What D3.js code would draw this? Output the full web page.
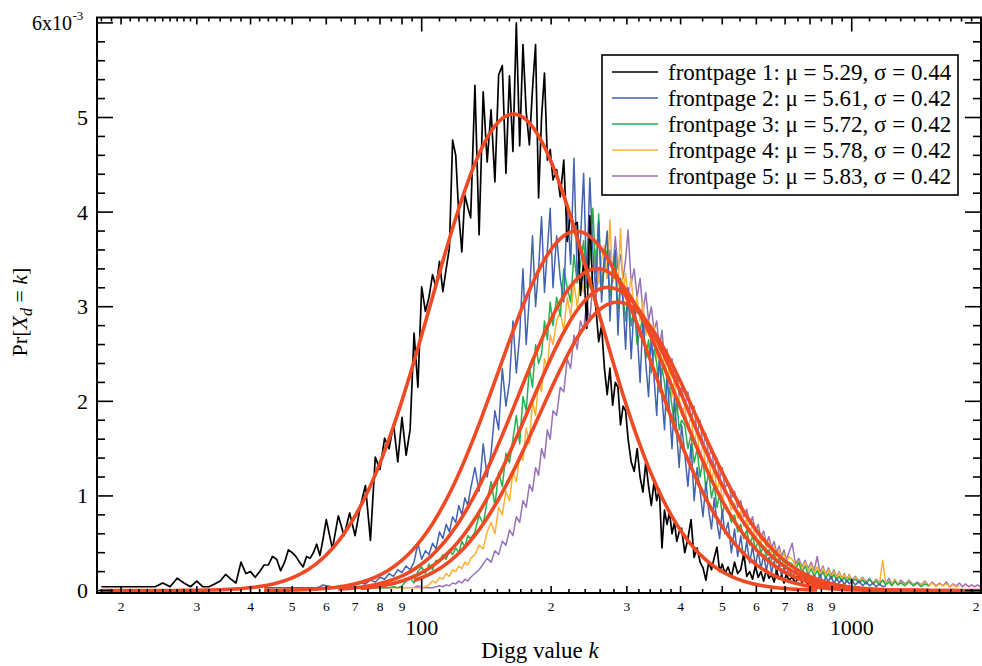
<!DOCTYPE html>
<html>
<head>
<meta charset="utf-8">
<script src="https://cdn.jsdelivr.net/npm/d3@7"></script>
<style>
  body { margin: 0; background: #fff; }
  svg { display: block; font-family: "Liberation Serif", "Times New Roman", serif; }
</style>
</head>
<body>
<svg id="chart" width="982" height="666"></svg>
<script>
// Digg value k at which the empirical distributions are sampled (shared by all series)
const kGrid = [
  18,19,20,21,22,23,24,25,26,27,28,29,30,31,32,33,34,35,36,37,38,39,40,41,42,43,44,45,46,47,48,49,50,51,52,53,54,55,56,57,58,59,60,
  62,64,66,68,70,72,74,76,78,80,82,84,86,88,90,92,94,96,98,100,102,104,106,108,110,112,114,116,118,120,122,124,126,128,130,
  133,136,139,142,145,148,151,154,157,160,163,166,169,172,175,178,181,184,187,190,193,196,199,202,
  206,210,214,218,222,226,230,234,238,242,246,250,254,258,262,266,270,274,278,282,286,290,294,298,302,
  307,312,317,322,327,332,337,342,347,352,357,362,367,372,377,382,387,392,397,402,
  409,416,423,430,437,444,451,458,465,472,479,486,493,500,507,
  516,525,534,543,552,561,570,579,588,597,606,615,624,633,642,651,660,669,678,687,696,705,714,
  727,740,753,766,779,792,805,818,831,844,857,870,883,896,909,922,935,948,961,974,987,1000,
  1020,1040,1060,1080,1100,1120,1140,1160,1180,1200,1220,1240,1260,1280,1300,
  1330,1360,1390,1420,1450,1480,1510,1540,1570,1600,1630,1660,1690,1720,1750,1780,1810,1840,1870,1900,1930,1960,1990
];

const seriesNames = ["frontpage 1", "frontpage 2", "frontpage 3", "frontpage 4", "frontpage 5"];
const seriesColors = ["#000000", "#4263b1", "#22b14c", "#fbb231", "#9673b6"];
const fitColor = "#ef4a24";
// lognormal fit parameters
const mu = [5.29, 5.61, 5.72, 5.78, 5.83];
const sigma = [0.44, 0.42, 0.42, 0.42, 0.42];
// first k of each series in kGrid
const seriesStart = [18, 43, 64, 72, 96];

// Pr[X_d = k] in units of 1e-3, consecutive kGrid points from seriesStart
const fp1 = [
  .04,.04,.04,.04,.04,.04,.04,.08,.04,.13,.08,.04,.10,.04,.04,.07,.10,.17,.12,.08,.30,.18,.20,.14,.20,.27,.27,.36,.33,.21,.30,.43,.40,.36,.30,.25,.36,.34,.40,.49,.37,.55,.75,
  .44,.79,.58,.82,.58,.89,1.11,.53,1.41,1.28,1.61,1.50,1.76,1.36,1.83,1.43,1.70,2.72,2.15,3.21,2.95,3.10,3.34,3.20,3.48,3.16,3.40,3.62,4.76,4.60,3.97,3.58,4.18,4.05,3.94,
  5.34,3.76,5.27,4.53,5.08,4.32,5.45,5.55,4.41,5.44,4.64,6.00,4.70,5.77,5.06,4.71,5.30,5.77,4.15,5.00,5.47,4.55,4.66,4.34,
  4.45,4.16,4.55,3.69,3.98,3.86,3.89,3.12,3.48,2.77,3.96,3.16,3.00,2.63,2.80,2.35,2.07,2.35,1.96,2.20,2.15,1.75,1.95,1.90,1.60,
  1.36,1.26,1.50,1.20,1.04,1.36,1.10,.90,1.15,.95,1.07,.45,.85,.70,.83,.60,.72,.52,.62,.66,
  .40,.55,.75,.35,.45,.30,.24,.11,.30,.22,.35,.46,.20,.28,.18,
  .25,.14,.30,.18,.22,.39,.15,.20,.12,.26,.14,.20,.10,.22,.13,.17,.09,.21,.12,.16,.08,.18,.11,
  .14,.08,.15,.09,.12,.06,.11,.07,.06
];
const fp2 = [
  .03,.03,.03,.03,.03,.03,.03,.03,.03,.03,.03,.03,.03,.03,.03,.04,.06,.05,
  .04,.04,.05,.04,.06,.08,.07,.11,.09,.14,.12,.18,.15,.22,.19,.26,.22,.30,.50,.33,.42,.38,.50,.44,.62,.55,.70,.62,.78,.72,.90,.80,.98,.90,1.08,
  1.30,1.05,1.55,1.20,1.45,1.90,1.70,2.35,1.95,2.20,2.85,2.30,2.70,3.40,2.60,3.10,3.75,3.00,3.40,3.95,3.15,3.60,4.04,3.20,
  3.75,3.30,3.05,4.10,3.45,4.57,3.30,3.70,4.41,3.25,4.36,3.60,3.15,3.90,3.05,3.50,3.80,2.85,3.40,3.60,2.70,3.30,3.05,2.55,3.20,
  2.45,3.05,2.75,2.20,2.90,2.40,2.05,2.70,2.25,1.85,2.50,2.05,1.70,2.30,1.90,1.50,2.05,1.65,1.30,1.75,
  1.45,1.10,1.55,.95,1.30,1.05,.78,1.15,.85,.65,.98,.72,.55,.85,.60,
  .72,.40,.65,.36,.58,.32,.52,.29,.47,.26,.42,.23,.38,.21,.35,.19,.31,.17,.28,.15,.26,.14,.24,
  .14,.22,.12,.20,.11,.18,.10,.16,.09,.17,.08,.14,.10,.15,.07,.13,.08,.12,.06,.11,.07,.10,
  .06,.10,.05,.09,.05,.08,.04,.07,.04,.05
];
const fp3 = [
  .03,.03,.03,.03,.03,.03,.03,.03,.03,.03,.03,.04,.03,.05,.10,.13,.08,.20,.25,.18,.28,.22,.32,.30,.38,.33,.42,.38,.45,.40,.52,.46,.58,.55,
  .62,.80,.70,.95,1.15,.90,1.25,1.10,1.45,1.35,1.60,1.85,1.55,2.05,1.90,2.35,2.15,2.60,2.40,2.50,2.85,2.65,3.05,2.80,
  3.10,2.90,3.40,3.20,3.05,3.55,3.25,3.45,3.70,3.20,3.50,4.04,3.35,3.98,3.15,3.45,3.60,3.10,3.35,3.50,2.95,3.25,3.10,2.85,3.15,
  2.80,3.00,2.60,2.75,2.90,2.45,2.65,2.30,2.55,2.40,2.10,2.35,2.20,1.90,2.15,1.95,1.75,2.00,1.70,1.80,
  1.75,1.50,1.65,1.35,1.50,1.20,1.38,1.08,1.25,.98,1.12,.88,1.02,.80,.92,
  .85,.72,.80,.62,.70,.55,.64,.48,.58,.44,.52,.40,.47,.36,.43,.32,.40,.29,.36,.26,.33,.24,.30,
  .28,.22,.30,.19,.26,.17,.23,.15,.21,.14,.20,.13,.18,.12,.17,.11,.15,.10,.14,.09,.13,.09,
  .12,.08,.11,.07,.12,.07,.10,.06,.11,.06,.09,.05,.10,.06,.08,
  .05,.09,.05,.08,.04,.07,.05
];
const fp4 = [
  .03,.03,.03,.03,.03,.03,.03,.03,.03,.03,.03,.03,.03,.03,.03,.04,.06,.10,.08,.14,.12,.18,.15,.22,.20,.26,.23,.30,.27,.34,
  .38,.48,.44,.62,.72,.60,.88,.80,1.05,.95,1.25,1.15,1.42,1.38,1.72,1.55,2.00,1.85,2.20,2.10,2.45,2.35,2.70,2.60,
  2.85,2.95,2.75,3.10,2.90,3.25,3.00,3.30,3.15,3.50,3.20,3.40,3.60,3.25,3.50,3.65,3.30,3.92,3.25,3.45,3.20,3.83,3.15,3.35,3.10,
  3.30,2.95,3.10,2.85,3.05,2.70,2.85,2.60,2.80,2.45,2.65,2.35,2.50,2.20,2.40,2.05,2.25,1.95,2.05,1.85,
  1.95,1.70,1.85,1.55,1.70,1.40,1.55,1.28,1.42,1.15,1.30,1.05,1.18,.95,1.08,
  .98,.85,.92,.76,.84,.68,.76,.60,.70,.54,.63,.50,.58,.45,.52,.40,.47,.36,.43,.33,.39,.30,.36,
  .33,.26,.31,.23,.30,.21,.27,.19,.25,.17,.24,.16,.22,.15,.20,.13,.19,.12,.17,.11,.16,.10,
  .14,.09,.13,.08,.12,.08,.11,.07,.32,.07,.10,.06,.12,.06,.09,
  .06,.10,.05,.08,.05,.09,.05,.08,.04,.07,.05,.07,.04,.06,.04,.05
];
const fp5 = [
  .03,.05,.03,.03,.03,.03,.04,.05,.04,.06,.05,.08,.07,.10,.08,.12,.10,.14,
  .18,.22,.28,.34,.30,.42,.38,.52,.48,.64,.58,.78,.72,.95,.88,1.12,1.05,1.30,1.22,1.50,1.40,1.70,1.60,1.90,
  1.85,2.15,2.10,2.45,2.35,2.70,2.55,2.85,2.75,3.05,2.85,3.25,3.05,3.40,3.15,3.55,3.30,3.60,3.35,3.74,3.40,3.55,3.30,3.50,3.81,
  3.25,3.40,3.10,3.30,2.95,3.15,2.85,3.00,2.75,2.85,2.55,2.75,2.45,2.55,2.30,2.45,2.20,2.30,2.05,2.15,
  1.95,2.10,1.80,1.95,1.65,1.80,1.52,1.66,1.40,1.52,1.28,1.40,1.18,1.30,1.08,
  1.15,.98,1.05,.88,.95,.78,.86,.70,.78,.62,.70,.56,.63,.50,.57,.45,.52,.40,.47,.36,.43,.33,.40,
  .50,.28,.34,.25,.32,.23,.30,.21,.36,.19,.26,.17,.24,.16,.22,.14,.20,.13,.18,.12,.17,.11,
  .15,.10,.14,.09,.13,.08,.12,.08,.11,.07,.13,.07,.10,.06,.11,
  .07,.11,.06,.09,.06,.10,.05,.09,.05,.08,.05,.09,.04,.07,.05,.08,.04,.07,.04,.06,.04,.06,.04
];
const seriesValues = [fp1, fp2, fp3, fp4, fp5];

// axis ticks
const yTickValues = [0, 1, 2, 3, 4, 5];
const yTopLabel = 6;
const xDecadeTicks = [100, 1000];
const xDigitTicks = [20, 30, 40, 50, 60, 70, 80, 90, 200, 300, 400, 500, 600, 700, 800, 900, 2000];
const xSmallTicks = [18, 19, 21, 22, 23, 24, 25, 26, 27, 28, 29, 32, 34, 36, 38, 42, 44, 46, 48, 55, 65, 75, 85, 95,
  110, 120, 130, 140, 150, 160, 170, 180, 190, 220, 240, 260, 280, 320, 340, 360, 380, 450, 550, 650, 750, 850, 950,
  1100, 1200, 1300, 1400, 1500, 1600, 1700, 1800, 1900];

const svg = d3.select("#chart");
const plot = { left: 97, right: 981, top: 17.5, bottom: 593 };

const x = d3.scaleLog().domain([17.58, 1998]).range([plot.left, plot.right]);
const y = d3.scaleLinear().domain([-0.026, 6.057]).range([plot.bottom, plot.top]);

svg.append("defs").append("clipPath").attr("id", "plotClip")
  .append("rect")
  .attr("x", plot.left).attr("y", plot.top)
  .attr("width", plot.right - plot.left).attr("height", plot.bottom - plot.top);

const layer = svg.append("g").attr("clip-path", "url(#plotClip)");

const line = d3.line().x(d => x(d[0])).y(d => y(d[1]));

// empirical series, last one at the back
const order = [4, 3, 2, 1, 0];
order.forEach(i => {
  const start = kGrid.indexOf(seriesStart[i]);
  const pts = seriesValues[i].map((v, j) => [kGrid[start + j], v]);
  layer.append("path")
    .datum(pts)
    .attr("fill", "none")
    .attr("stroke", seriesColors[i])
    .attr("stroke-width", i === 0 ? 1.7 : 1.5)
    .attr("stroke-linejoin", "round")
    .attr("d", line);
});

// lognormal fits over each series' k range
function lognormalPdf(k, m, s) {
  const z = (Math.log(k) - m) / s;
  return 1000 / (k * s * Math.sqrt(2 * Math.PI)) * Math.exp(-0.5 * z * z);
}
[0, 1, 2, 3, 4].forEach(i => {
  const start = kGrid.indexOf(seriesStart[i]);
  const kEnd = kGrid[start + seriesValues[i].length - 1];
  const lo = Math.log(seriesStart[i]), hi = Math.log(kEnd);
  const ks = d3.range(0, 301).map(t => Math.exp(lo + (hi - lo) * t / 300));
  layer.append("path")
    .datum(ks.map(k => [k, lognormalPdf(k, mu[i], sigma[i])]))
    .attr("fill", "none")
    .attr("stroke", fitColor)
    .attr("stroke-width", 3.6)
    .attr("stroke-linecap", "butt")
    .attr("d", line);
});

// frame
svg.append("rect")
  .attr("x", plot.left).attr("y", plot.top)
  .attr("width", plot.right - plot.left).attr("height", plot.bottom - plot.top)
  .attr("fill", "none").attr("stroke", "#000").attr("stroke-width", 2);

const ticks = svg.append("g").attr("stroke", "#000").attr("stroke-width", 1.6);

function xTick(k, len) {
  const px = x(k);
  ticks.append("line").attr("x1", px).attr("x2", px).attr("y1", plot.bottom).attr("y2", plot.bottom - len);
  ticks.append("line").attr("x1", px).attr("x2", px).attr("y1", plot.top).attr("y2", plot.top + len);
}
xDecadeTicks.forEach(k => xTick(k, 14));
xDigitTicks.filter(k => k < 1998).forEach(k => xTick(k, 7));
xSmallTicks.forEach(k => xTick(k, 4));

function yTick(v, len) {
  const py = y(v);
  ticks.append("line").attr("x1", plot.left).attr("x2", plot.left + len).attr("y1", py).attr("y2", py);
  ticks.append("line").attr("x1", plot.right).attr("x2", plot.right - len).attr("y1", py).attr("y2", py);
}
d3.range(0, 6.001, 1).forEach(v => yTick(v, 16));
d3.range(0.2, 6, 0.2).filter(v => Math.abs(v - Math.round(v)) > 0.01).forEach(v => yTick(v, 8));

// tick labels
const labels = svg.append("g").attr("fill", "#000");
yTickValues.forEach(v => {
  labels.append("text").attr("x", 88).attr("y", y(v) + 7.5)
    .attr("text-anchor", "end").attr("font-size", 22).text(v);
});
labels.append("text").attr("x", 72).attr("y", y(yTopLabel) + 7)
  .attr("text-anchor", "end").attr("font-size", 20).text(yTopLabel + "x10");
labels.append("text").attr("x", 72.5).attr("y", y(yTopLabel) - 3)
  .attr("font-size", 13).text("-3");

xDigitTicks.forEach(k => {
  const px = Math.min(x(k), 976);
  labels.append("text").attr("x", px).attr("y", 611)
    .attr("text-anchor", "middle").attr("font-size", 13.5)
    .text(String(k).charAt(0));
});
xDecadeTicks.forEach(k => {
  labels.append("text").attr("x", x(k)).attr("y", 635)
    .attr("text-anchor", "middle").attr("font-size", 22).text(k);
});

// axis titles
const xt = labels.append("text").attr("x", 540).attr("y", 658)
  .attr("text-anchor", "middle").attr("font-size", 23);
xt.append("tspan").text("Digg value ");
xt.append("tspan").attr("font-style", "italic").text("k");

const yt = labels.append("text")
  .attr("transform", "translate(27,312) rotate(-90)")
  .attr("text-anchor", "middle").attr("font-size", 22);
yt.append("tspan").text("Pr[");
yt.append("tspan").attr("font-style", "italic").text("X");
yt.append("tspan").attr("font-style", "italic").attr("font-size", 16).attr("dy", 5).text("d");
yt.append("tspan").attr("dy", -5).text(" = ");
yt.append("tspan").attr("font-style", "italic").text("k");
yt.append("tspan").text("]");

// legend
const lg = svg.append("g");
lg.append("rect").attr("x", 602).attr("y", 55).attr("width", 356).attr("height", 140)
  .attr("fill", "#fff").attr("stroke", "#000").attr("stroke-width", 1.6);
seriesNames.forEach((name, i) => {
  const ry = 72 + i * 26;
  lg.append("line").attr("x1", 612).attr("x2", 658).attr("y1", ry).attr("y2", ry)
    .attr("stroke", seriesColors[i]).attr("stroke-width", 1.6);
  lg.append("text").attr("x", 668).attr("y", ry + 7.5).attr("font-size", 23)
    .text(`${name}: \u03bc = ${mu[i].toFixed(2)}, \u03c3 = ${sigma[i].toFixed(2)}`);
});
</script>
</body>
</html>
